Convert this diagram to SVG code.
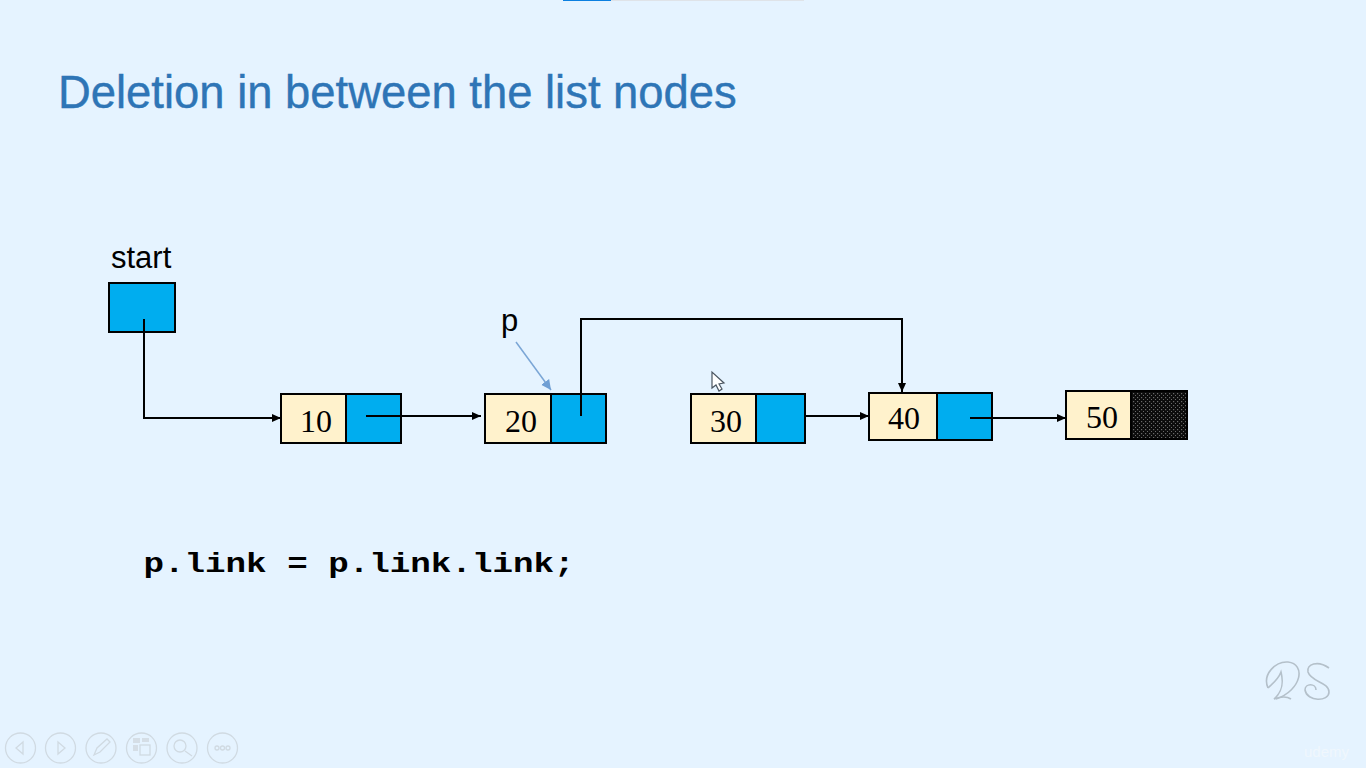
<svg xmlns="http://www.w3.org/2000/svg" width="1366" height="768" viewBox="0 0 1366 768">
<style>
.data{fill:#fff2cc;stroke:#000;stroke-width:2}
.link{fill:#00adef;stroke:#000;stroke-width:2}
.num{font:32px "Liberation Serif",serif;fill:#000;text-anchor:middle}
.lbl{font:31px "Liberation Sans",Arial,sans-serif;fill:#000}
.c{fill:none;stroke:#000;stroke-width:2}
.nav{fill:none;stroke:#d0dae2;stroke-width:1.3}
.navf{fill:#d5dee6;stroke:none}
</style>
<defs>
<marker id="a" markerUnits="userSpaceOnUse" markerWidth="10" markerHeight="10" refX="9" refY="5" orient="auto"><path d="M0 1L9 5L0 9z" fill="#000"/></marker>
<marker id="b" markerUnits="userSpaceOnUse" markerWidth="12" markerHeight="12" refX="10" refY="5" orient="auto"><path d="M0 0L10 5L0 10z" fill="#6f9fd4"/></marker>
<pattern id="dots" width="4" height="4" patternUnits="userSpaceOnUse"><rect width="4" height="4" fill="#0c0c0c"/><rect x="1" y="1" width="1.2" height="1.2" fill="#6a6a6a"/><rect x="3" y="3" width="1.2" height="1.2" fill="#6a6a6a"/></pattern>
</defs>
<rect width="1366" height="768" fill="#e5f3ff"/>
<rect x="563" y="0" width="48" height="1" fill="#0b7fe0"/>
<rect x="611" y="0" width="193" height="1" fill="#dfe3e8"/>
<text id="title" x="58" y="107.500" font-family="Liberation Sans,Arial,sans-serif" font-size="45.4" fill="#2e75b6" stroke="#2e75b6" stroke-width="0.4">Deletion in between the list nodes</text>

<g id="start"><text class="lbl" x="111" y="268">start</text><rect class="link" x="109" y="283" width="66" height="49"/></g>
<g id="node10"><rect class="data" x="281" y="394" width="65" height="49"/><rect class="link" x="346" y="394" width="55" height="49"/><text class="num" x="316" y="432">10</text></g>
<g id="node20"><rect class="data" x="485" y="394" width="66" height="49"/><rect class="link" x="551" y="394" width="55" height="49"/><text class="num" x="521" y="432">20</text></g>
<g id="node30"><rect class="data" x="691" y="394" width="65" height="49"/><rect class="link" x="756" y="394" width="49" height="49"/><text class="num" x="726" y="432">30</text></g>
<g id="node40"><rect class="data" x="869" y="393" width="68" height="47"/><rect class="link" x="937" y="393" width="55" height="47"/><text class="num" x="904" y="429">40</text></g>
<g id="node50"><rect class="data" x="1066" y="391" width="65" height="48"/><rect x="1131" y="391" width="56" height="48" fill="url(#dots)" stroke="#000" stroke-width="2"/><text class="num" x="1102" y="428">50</text></g>
<g id="p"><text class="lbl" x="501" y="331">p</text></g>

<g id="connectors">
<path class="c" d="M144 319V418H281" marker-end="url(#a)"/>
<path class="c" d="M366 416H481" marker-end="url(#a)"/>
<path class="c" d="M581 416V319H902V392" marker-end="url(#a)"/>
<path class="c" d="M805 416H869" marker-end="url(#a)"/>
<path class="c" d="M970 418H1066" marker-end="url(#a)"/>
<path d="M516 342L551 390" fill="none" stroke="#7ba6d6" stroke-width="1.5" marker-end="url(#b)"/>
</g>

<text id="code" x="143.500" y="572" font-family="Liberation Mono,Courier New,monospace" font-weight="700" font-size="28" fill="#000" textLength="431" lengthAdjust="spacingAndGlyphs">p.link = p.link.link;</text>

<path id="cursor" d="M712 372V388L716 385L719 391L722 389L719 384L724 383Z" fill="#fff" stroke="#4a5560" stroke-width="1.2"/>

<g id="watermark" fill="none" stroke="#b4c0ca" stroke-width="1.6">
<path d="M1268 688C1262 674 1276 661 1288 662C1306 664 1302 690 1276 699"/>
<path d="M1268 688C1272 684 1278 680 1281 672C1284 684 1282 692 1274 699C1282 696 1288 697 1291 699"/>
<path d="M1329 668C1318 660 1306 664 1308 672C1311 682 1329 682 1329 692C1329 702 1307 702 1305 690C1305 683 1316 683 1316 690"/>
</g>
<text id="udemy" x="1304" y="757" font-family="Liberation Sans,Arial,sans-serif" font-size="15" fill="#f0f7fd">udemy</text>

<g id="nav">
<circle class="nav" cx="20.500" cy="748" r="15"/><path class="nav" d="M23 742L16 748L23 754Z"/>
<circle class="nav" cx="60.500" cy="748" r="15"/><path class="nav" d="M58 742L65 748L58 754Z"/>
<circle class="nav" cx="101" cy="748" r="15"/><path class="nav" d="M94 755L97 748L107 739L110 742L100 752Z"/>
<circle class="nav" cx="141.500" cy="748" r="15"/><rect class="navf" x="133" y="738" width="7" height="5"/><rect class="navf" x="142" y="738" width="7" height="4"/><rect class="navf" x="133" y="745" width="5" height="6"/><rect class="nav" x="140" y="745" width="10" height="10"/>
<circle class="nav" cx="182" cy="748" r="15"/><circle class="nav" cx="180" cy="746" r="6"/><path class="nav" stroke-width="3" d="M185 751L192 756"/>
<circle class="nav" cx="222.500" cy="748" r="15"/><circle class="nav" cx="217" cy="748" r="2"/><circle class="nav" cx="222.500" cy="748" r="2"/><circle class="nav" cx="228" cy="748" r="2"/>
</g>
</svg>
